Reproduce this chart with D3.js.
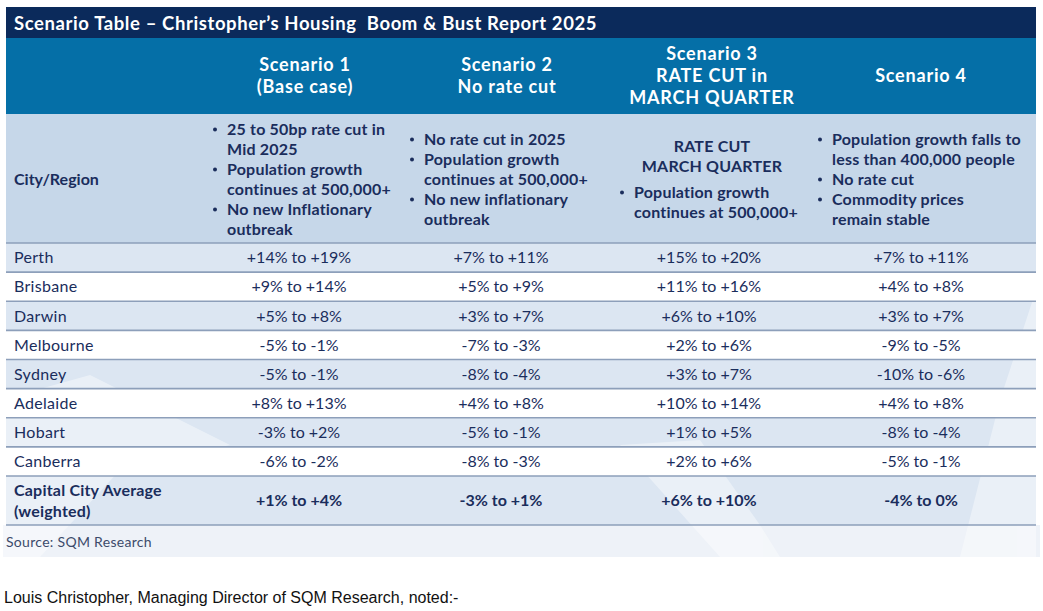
<!DOCTYPE html>
<html>
<head>
<meta charset="utf-8">
<script src="https://cdn.jsdelivr.net/npm/d3@7"></script>
<style>
  body { margin: 0; background: #ffffff; }
  text { font-family: Lato, "Open Sans", sans-serif; }
</style>
</head>
<body>
<div id="vis"></div>
<script>
// Frame
const FRAME_WIDTH = 1043;
const FRAME_HEIGHT = 611;
const TABLE = {left: 6, right: 1036, top: 7};

// Data
const TITLE = "Scenario Table \u2013 Christopher\u2019s Housing  Boom & Bust Report 2025";
const scenarios = ["Scenario 1", "Scenario 2", "Scenario 3", "Scenario 4"];
const headerLines = [
  ["Scenario 1", "(Base case)"],
  ["Scenario 2", "No rate cut"],
  ["Scenario 3", "RATE CUT in", "MARCH QUARTER"],
  ["Scenario 4"]
];
// each assumption line: [text, isBullet, centred]
const assumptions = [
  [["25 to 50bp rate cut in", true], ["Mid 2025", false], ["Population growth", true],
   ["continues at 500,000+", false], ["No new Inflationary", true], ["outbreak", false]],
  [["No rate cut in 2025", true], ["Population growth", true], ["continues at 500,000+", false],
   ["No new inflationary", true], ["outbreak", false]],
  [["RATE CUT", false, true], ["MARCH QUARTER", false, true], ["Population growth", true],
   ["continues at 500,000+", false]],
  [["Population growth falls to", true], ["less than 400,000 people", false], ["No rate cut", true],
   ["Commodity prices", true], ["remain stable", false]]
];
const cities = ["Perth", "Brisbane", "Darwin", "Melbourne", "Sydney", "Adelaide", "Hobart", "Canberra"];
const s1Low  = [14, 9, 5, -5, -5, 8, -3, -6];
const s1High = [19, 14, 8, -1, -1, 13, 2, -2];
const s2Low  = [7, 5, 3, -7, -8, 4, -5, -8];
const s2High = [11, 9, 7, -3, -4, 8, -1, -3];
const s3Low  = [15, 11, 6, 2, 3, 10, 1, 2];
const s3High = [20, 16, 10, 6, 7, 14, 5, 6];
const s4Low  = [7, 4, 3, -9, -10, 4, -8, -5];
const s4High = [11, 8, 7, -5, -6, 8, -4, -1];
const avgLabel = ["Capital City Average", "(weighted)"];
const avgLow  = [1, -3, 6, -4];
const avgHigh = [4, 1, 10, 0];
const SOURCE = "Source: SQM Research";
const NOTE = "Louis Christopher, Managing Director of SQM Research, noted:-";

const lows = [s1Low, s2Low, s3Low, s4Low];
const highs = [s1High, s2High, s3High, s4High];

// Colours
const NAVY = "#0b2a5b";
const MID_BLUE = "#056fa7";
const ASSUMP_BG = "#c6d7e9";
const LIGHT_ROW = "#dce6f2";
const LINE = "#8d9fba";
const TEXT = "#1a2d5c";

function pct(v) {
  if (v > 0) return "+" + v + "%";
  return v + "%";
}
function range(lo, hi) { return pct(lo) + " to " + pct(hi); }

const svg = d3.select("#vis")
  .append("svg")
    .attr("width", FRAME_WIDTH)
    .attr("height", FRAME_HEIGHT);

// Scales
const ROW_Y = d3.scaleBand()
  .domain(cities)
  .range([243, 476]);

const HEAD_X = d3.scaleOrdinal().domain(scenarios).range([305, 507, 712, 921]);
const VAL_X = d3.scaleOrdinal().domain(scenarios).range([299, 501, 709, 921]);
const BULLET_X = d3.scaleOrdinal().domain(scenarios).range([213, 410, 620, 818]);

const HEADER = {top: 38, bottom: 114};
const ASSUMP = {top: 114, bottom: 243};
const AVG = {top: 476, bottom: 525};
const SRC = {top: 525, bottom: 557};

// Source band
svg.append("rect")
  .attr("x", 3).attr("y", SRC.top)
  .attr("width", 1037).attr("height", SRC.bottom - SRC.top)
  .attr("fill", "#eef2f8");

// Title bar
svg.append("rect")
  .attr("x", TABLE.left).attr("y", TABLE.top)
  .attr("width", TABLE.right - TABLE.left).attr("height", HEADER.top - TABLE.top)
  .attr("fill", NAVY);
svg.append("text")
  .attr("x", 14).attr("y", 23)
  .attr("dy", "0.36em")
  .attr("fill", "#ffffff")
  .attr("font-size", "18.5px")
  .attr("font-weight", "bold")
  .style("letter-spacing", "0.6px")
  .style("white-space", "pre")
  .text(TITLE);

// Header
svg.append("rect")
  .attr("x", TABLE.left).attr("y", HEADER.top)
  .attr("width", TABLE.right - TABLE.left).attr("height", HEADER.bottom - HEADER.top)
  .attr("fill", MID_BLUE);

headerLines.forEach((lines, i) => {
  const mid = (HEADER.top + HEADER.bottom) / 2;
  const lh = 22;
  lines.forEach((t, j) => {
    svg.append("text")
      .attr("x", HEAD_X(scenarios[i]))
      .attr("y", mid + (j - (lines.length - 1) / 2) * lh)
      .attr("dy", "0.36em")
      .attr("text-anchor", "middle")
      .attr("fill", "#ffffff")
      .attr("font-size", "18px")
      .attr("font-weight", "bold")
      .style("letter-spacing", "0.8px")
      .text(t);
  });
});

// Assumption row
svg.append("rect")
  .attr("x", TABLE.left).attr("y", ASSUMP.top)
  .attr("width", TABLE.right - TABLE.left).attr("height", ASSUMP.bottom - ASSUMP.top)
  .attr("fill", ASSUMP_BG);

svg.append("text")
  .attr("x", 14).attr("y", (ASSUMP.top + ASSUMP.bottom) / 2 + 1)
  .attr("dy", "0.36em")
  .attr("fill", TEXT)
  .attr("font-size", "16px")
  .attr("font-weight", "bold")
  .text("City/Region");

assumptions.forEach((lines, i) => {
  const mid = (ASSUMP.top + ASSUMP.bottom) / 2 + 1;
  const lh = 20;
  const bx = BULLET_X(scenarios[i]);
  // offsets, with a small extra gap between centred lines and bullets
  const offs = [];
  let acc = 0;
  lines.forEach((l, j) => {
    if (j > 0) acc += lh + (lines[j - 1][2] && !l[2] ? 6 : 0);
    offs.push(acc);
  });
  const shift = mid - acc / 2;
  lines.forEach((l, j) => {
    const y = shift + offs[j];
    if (l[1]) {
      svg.append("circle")
        .attr("cx", bx + 2).attr("cy", y)
        .attr("r", 2)
        .attr("fill", TEXT);
    }
    svg.append("text")
      .attr("x", l[2] ? HEAD_X(scenarios[i]) : bx + 14)
      .attr("y", y)
      .attr("dy", "0.36em")
      .attr("text-anchor", l[2] ? "middle" : "start")
      .attr("fill", TEXT)
      .attr("font-size", "16px")
      .attr("font-weight", "bold")
      .style("letter-spacing", "0.2px")
      .text(l[0]);
  });
});

// City rows
svg.selectAll(".rowbg")
  .data(cities)
  .enter()
  .append("rect")
    .attr("x", TABLE.left)
    .attr("y", d => ROW_Y(d))
    .attr("width", TABLE.right - TABLE.left)
    .attr("height", ROW_Y.bandwidth())
    .attr("fill", (d, i) => i % 2 == 0 ? LIGHT_ROW : "#ffffff");

// Average row background
svg.append("rect")
  .attr("x", TABLE.left).attr("y", AVG.top)
  .attr("width", TABLE.right - TABLE.left).attr("height", AVG.bottom - AVG.top)
  .attr("fill", LIGHT_ROW);

// faint watermark shapes
const wm = svg.append("g").attr("fill", "#ffffff").attr("opacity", 0.4);
wm.append("path").attr("d", "M0,400 L90,375 L230,445 L120,470 L40,557 L0,557 Z");
wm.append("path").attr("d", "M620,445 L700,440 L760,525 L780,557 L720,557 Z");
wm.append("path").attr("d", "M1000,400 L1036,290 L1036,557 L960,557 Z");

// Row lines
const lineYs = [ASSUMP.bottom].concat(cities.slice(1).map(d => ROW_Y(d)), [AVG.top, AVG.bottom]);
svg.selectAll(".rowline")
  .data(lineYs)
  .enter()
  .append("line")
    .attr("x1", TABLE.left).attr("x2", TABLE.right)
    .attr("y1", d => d).attr("y2", d => d)
    .attr("stroke", LINE)
    .attr("stroke-width", 1.6);

// City names
svg.selectAll(".city")
  .data(cities)
  .enter()
  .append("text")
    .attr("x", 14)
    .attr("y", d => ROW_Y(d) + ROW_Y.bandwidth() / 2)
    .attr("dy", "0.36em")
    .attr("fill", TEXT)
    .attr("font-size", "16px")
    .style("letter-spacing", "0.3px")
    .text(d => d);

// Values
scenarios.forEach((s, i) => {
  svg.selectAll(".val" + i)
    .data(cities)
    .enter()
    .append("text")
      .attr("x", VAL_X(s))
      .attr("y", d => ROW_Y(d) + ROW_Y.bandwidth() / 2)
      .attr("dy", "0.36em")
      .attr("text-anchor", "middle")
      .attr("fill", TEXT)
      .attr("font-size", "16px")
      .text((d, j) => range(lows[i][j], highs[i][j]));
});

// Average row text
avgLabel.forEach((t, j) => {
  svg.append("text")
    .attr("x", 14)
    .attr("y", (AVG.top + AVG.bottom) / 2 + (j - 0.5) * 21)
    .attr("dy", "0.36em")
    .attr("fill", TEXT)
    .attr("font-size", "16px")
    .attr("font-weight", "bold")
    .style("letter-spacing", "0.2px")
    .text(t);
});
svg.selectAll(".avg")
  .data(scenarios)
  .enter()
  .append("text")
    .attr("x", d => VAL_X(d))
    .attr("y", (AVG.top + AVG.bottom) / 2)
    .attr("dy", "0.36em")
    .attr("text-anchor", "middle")
    .attr("fill", TEXT)
    .attr("font-size", "16px")
    .attr("font-weight", "bold")
    .text((d, i) => range(avgLow[i], avgHigh[i]));

// Source
svg.append("text")
  .attr("x", 6).attr("y", (SRC.top + SRC.bottom) / 2 + 1)
  .attr("dy", "0.36em")
  .attr("fill", "#3c4b6b")
  .attr("font-size", "14px")
  .style("letter-spacing", "0.3px")
  .text(SOURCE);

// Note below the table
svg.append("text")
  .attr("x", 4).attr("y", 597)
  .attr("dy", "0.36em")
  .attr("fill", "#111111")
  .style("font-family", "'Liberation Sans', Arial, sans-serif")
  .attr("font-size", "16px")
  .text(NOTE);
</script>
</body>
</html>
